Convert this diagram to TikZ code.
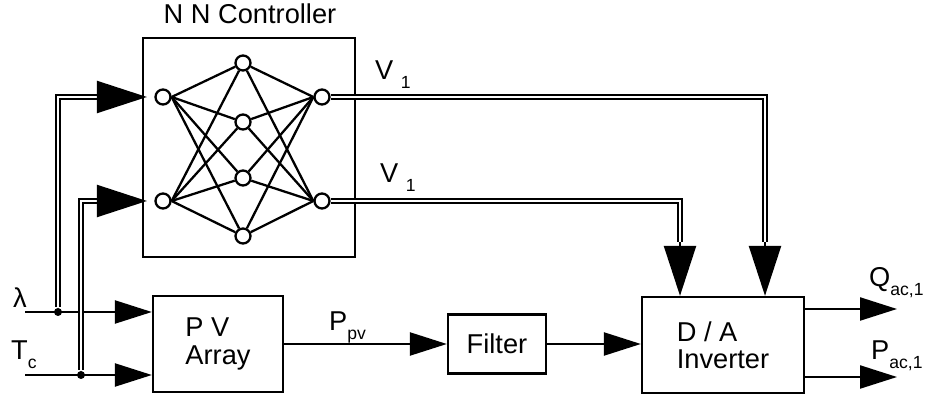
\documentclass[tikz,border=0pt]{standalone}
\usepackage{fontspec}
\setmainfont{Liberation Sans}
\definecolor{nnInk}{HTML}{000000}
\usetikzlibrary{arrows.meta}
\newcommand{\lowsub}[1]{\raisebox{-5pt}{\fontsize{10}{10}\selectfont #1}}

\begin{document}
\begin{tikzpicture}[x=0.2mm,y=-0.2mm,line width=1.3pt,
                    font=\fontsize{15.5}{15.5}\selectfont,
                    block/.style={draw=nnInk,align=left,inner sep=0pt},
                    neuron/.style={draw=nnInk,fill=white,circle,inner sep=0pt,minimum size=3mm},
                    lbl/.style={anchor=base west,inner sep=0pt,text=nnInk},
                    bus/.style={draw=nnInk,line width=0.9pt,double=white,double distance=1.6pt},
                    bigtip/.style={-{Triangle[length=10mm,width=6.4mm]}},
                    tip/.style={-{Triangle[length=7.4mm,width=4.6mm]}},
                    dot/.style={circle,fill=nnInk,inner sep=0pt,minimum size=1.6mm}]
  \useasboundingbox (0,0) rectangle (925,398);
  \node[anchor=base,inner sep=0pt] (title) at (250,24) {N N Controller};
  \node[block,minimum width=42.4mm,minimum height=43.8mm] (nn) at (249,147.5) {};
  \node[neuron] (in1) at (163,97) {};
  \node[neuron] (in2) at (163,201) {};
  \node[neuron] (h1) at (243,63) {};
  \node[neuron] (h2) at (243,122) {};
  \node[neuron] (h3) at (243,178) {};
  \node[neuron] (h4) at (243,236) {};
  \node[neuron] (out1) at (322,97) {};
  \node[neuron] (out2) at (322,201) {};
  \foreach \h in {h1,h2,h3,h4} {
    \foreach \i in {in1,in2} \draw (\i.east) -- (\h);
    \foreach \o in {out1,out2} \draw (\h) -- (\o.west);
  }

  \node[block,minimum width=26mm,minimum height=19.2mm] (pv) at (218,344) {P V\\Array};
  \node[block,minimum width=19.6mm,minimum height=11.8mm] (filter) at (497,344) {Filter};
  \node[block,minimum width=32.4mm,minimum height=19.2mm] (da) at (723,345) {D / A\\Inverter};

  \coordinate (lamin) at (25,312);
  \coordinate (tcin) at (25,375);
  \node[lbl] (lam) at (12,308) {λ};
  \node[lbl] (tc) at (10,360) {T\lowsub{c}};
  \node[dot] (lamdot) at (58,312) {};
  \node[dot] (tcdot) at (81,375) {};
  \coordinate (lamtip) at (99,97);
  \coordinate (tctip) at (99,201);
  \draw[tip] (lamin) -- (lamin -| pv.west);
  \draw[tip] (tcin) -- (tcin -| pv.west);
  \draw[bus] (lamdot.north) |- (lamtip);
  \draw[bus] (tcdot.north) |- (tctip);
  \draw[bigtip,shorten >=1.5mm] (lamtip) -- (in1.west);
  \draw[bigtip,shorten >=1.5mm] (tctip) -- (in2.west);

  \coordinate (c1) at (765,97);
  \coordinate (b1) at (765,242);
  \coordinate (c2) at (680,201);
  \coordinate (b2) at (680,242);
  \draw[bus] (out1.east) -- (c1) -- (b1);
  \draw[bus] (out2.east) -- (c2) -- (b2);
  \draw[bigtip] (b1) -- (b1 |- da.north);
  \draw[bigtip] (b2) -- (b2 |- da.north);
  \node[lbl] (v1a) at (374,80) {V \lowsub{1}};
  \node[lbl] (v1b) at (379,183) {V \lowsub{1}};

  \draw[tip] (pv) -- (filter);
  \draw[tip] (filter.east) -- (filter.east -| da.west);
  \node[lbl] (ppv) at (328,331) {P\lowsub{pv}};

  \coordinate (qtip) at (897,309);
  \coordinate (ptip) at (897,377);
  \draw[tip] (qtip -| da.east) -- (qtip);
  \draw[tip] (ptip -| da.east) -- (ptip);
  \node[lbl] (qac) at (868,287) {Q\lowsub{ac,1}};
  \node[lbl] (pac) at (870,360) {P\lowsub{ac,1}};
\end{tikzpicture}
\end{document}
